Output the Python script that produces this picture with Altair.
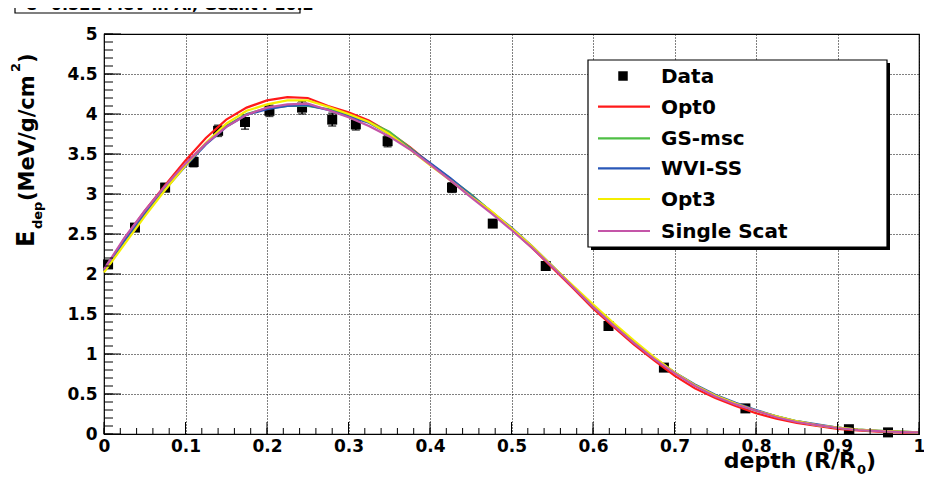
import altair as alt
import pandas as pd

# ---------------- data ----------------
depth = [0.0, 0.025, 0.05, 0.075, 0.1, 0.125, 0.15, 0.175, 0.2, 0.225, 0.25,
         0.275, 0.3, 0.325, 0.35, 0.375, 0.4, 0.425, 0.45, 0.475, 0.5,
         0.525, 0.55, 0.575, 0.6, 0.625, 0.65, 0.675, 0.7, 0.725, 0.75,
         0.775, 0.8, 0.825, 0.85, 0.875, 0.9, 0.925, 0.95, 0.975, 1.0]

opt0 = [2.04, 2.44, 2.79, 3.11, 3.42, 3.70, 3.93, 4.08, 4.17, 4.21, 4.20,
        4.10, 4.02, 3.92, 3.77, 3.59, 3.38, 3.18, 2.98, 2.78, 2.56,
        2.33, 2.08, 1.83, 1.57, 1.34, 1.12, 0.92, 0.73, 0.57, 0.45,
        0.35, 0.26, 0.19, 0.14, 0.10, 0.065, 0.045, 0.03, 0.02, 0.015]

gs_msc = [2.05, 2.43, 2.77, 3.08, 3.37, 3.63, 3.85, 4.00, 4.07, 4.10, 4.10,
          4.06, 3.99, 3.90, 3.78, 3.58, 3.38, 3.19, 3.00, 2.78, 2.57,
          2.34, 2.10, 1.85, 1.59, 1.37, 1.15, 0.95, 0.77, 0.61, 0.48,
          0.38, 0.29, 0.22, 0.16, 0.11, 0.08, 0.055, 0.04, 0.03, 0.02]

wvi_ss = [2.04, 2.41, 2.75, 3.06, 3.35, 3.62, 3.84, 3.99, 4.06, 4.10, 4.11,
          4.05, 3.97, 3.89, 3.75, 3.57, 3.39, 3.20, 2.99, 2.78, 2.58,
          2.35, 2.10, 1.85, 1.60, 1.37, 1.15, 0.95, 0.77, 0.62, 0.49,
          0.39, 0.30, 0.22, 0.16, 0.12, 0.08, 0.055, 0.04, 0.03, 0.02]

opt3 = [2.02, 2.37, 2.72, 3.05, 3.36, 3.64, 3.88, 4.04, 4.12, 4.17, 4.17,
        4.09, 4.00, 3.90, 3.75, 3.56, 3.36, 3.17, 2.97, 2.79, 2.57,
        2.35, 2.10, 1.86, 1.62, 1.39, 1.17, 0.96, 0.77, 0.61, 0.48,
        0.38, 0.29, 0.22, 0.16, 0.11, 0.08, 0.055, 0.04, 0.03, 0.02]

single_scat = [2.06, 2.45, 2.79, 3.10, 3.38, 3.63, 3.84, 3.99, 4.08, 4.12, 4.13,
               4.05, 3.96, 3.85, 3.72, 3.56, 3.37, 3.17, 2.96, 2.76, 2.55,
               2.33, 2.09, 1.84, 1.59, 1.36, 1.14, 0.94, 0.76, 0.60, 0.47,
               0.37, 0.29, 0.21, 0.15, 0.11, 0.075, 0.05, 0.035, 0.025, 0.02]

data_x = [0.005, 0.038, 0.075, 0.110, 0.140, 0.173, 0.203, 0.243, 0.280, 0.309,
          0.348, 0.427, 0.477, 0.542, 0.619, 0.687, 0.787, 0.914, 0.962]
data_y = [2.12, 2.58, 3.08, 3.40, 3.79, 3.90, 4.04, 4.08, 3.93, 3.87,
          3.66, 3.08, 2.63, 2.10, 1.35, 0.83, 0.32, 0.06, 0.02]
data_err = [0.04, 0.04, 0.05, 0.06, 0.07, 0.09, 0.07, 0.08, 0.08, 0.07,
            0.07, 0.06, 0.04, 0.04, 0.03, 0.03, 0.03, 0.03, 0.03]

series_names = ["Opt0", "GS-msc", "WVI-SS", "Opt3", "Single Scat"]
series_values = [opt0, gs_msc, wvi_ss, opt3, single_scat]
series_colors = ["#ff1a1a", "#4fbf45", "#2a58b8", "#f4ee00", "#c455a8"]

x_major = [0.0, 0.1, 0.2, 0.3, 0.4, 0.5, 0.6, 0.7, 0.8, 0.9, 1.0]
y_major = [0.0, 0.5, 1.0, 1.5, 2.0, 2.5, 3.0, 3.5, 4.0, 4.5, 5.0]
x_minor = [round(i * 0.02, 2) for i in range(51)]
y_minor = [round(i * 0.1, 1) for i in range(51)]

title_text = "e\u207b 0.521 MeV in Al, Geant4 10.2"

# ---------------- layout constants (pixels) ----------------
W, H = 815, 400
FONT = "DejaVu Sans"

xs = alt.Scale(domain=[0, 1], nice=False, zero=False)
ys = alt.Scale(domain=[0, 5], nice=False, zero=False)

dot = pd.DataFrame({"d": [0]})

pts = pd.DataFrame({"x": data_x, "y": data_y, "err": data_err})
pts["lo"] = pts["y"] - pts["err"]
pts["hi"] = pts["y"] + pts["err"]

XA = alt.Axis(values=x_major, format="~g", title=None, labelPadding=4, grid=True)
YA = alt.Axis(values=y_major, format="~g", title=None, labelPadding=7, grid=True)

squares = alt.Chart(pts).mark_square(size=100, color="black", opacity=1).encode(
    x=alt.X("x:Q", scale=xs, axis=XA), y=alt.Y("y:Q", scale=ys, axis=YA))
errbars = alt.Chart(pts).mark_rule(color="black", strokeWidth=1.5).encode(
    x=alt.X("x:Q", scale=xs, axis=XA), y=alt.Y("lo:Q", scale=ys, axis=YA), y2="hi:Q")
caps_lo = alt.Chart(pts).mark_tick(color="black", orient="horizontal", size=8,
                                   thickness=1.5).encode(
    x=alt.X("x:Q", scale=xs, axis=XA), y=alt.Y("lo:Q", scale=ys, axis=YA))
caps_hi = alt.Chart(pts).mark_tick(color="black", orient="horizontal", size=8,
                                   thickness=1.5).encode(
    x=alt.X("x:Q", scale=xs, axis=XA), y=alt.Y("hi:Q", scale=ys, axis=YA))

# ---- ticks drawn inside the frame ----
xmaj = alt.Chart(pd.DataFrame({"t": x_major})).mark_rule(color="black", strokeWidth=1).encode(
    x=alt.X("t:Q", scale=xs, axis=XA), y=alt.value(H), y2=alt.value(H - 12))
xmin = alt.Chart(pd.DataFrame({"t": x_minor})).mark_rule(color="black", strokeWidth=1).encode(
    x=alt.X("t:Q", scale=xs, axis=XA), y=alt.value(H), y2=alt.value(H - 6))
ymaj = alt.Chart(pd.DataFrame({"t": y_major})).mark_rule(color="black", strokeWidth=1).encode(
    y=alt.Y("t:Q", scale=ys, axis=YA), x=alt.value(0), x2=alt.value(17))
ymin = alt.Chart(pd.DataFrame({"t": y_minor})).mark_rule(color="black", strokeWidth=1).encode(
    y=alt.Y("t:Q", scale=ys, axis=YA), x=alt.value(0), x2=alt.value(9))

# ---- simulation curves ----
curves = []
for name, vals, col in zip(series_names, series_values, series_colors):
    df = pd.DataFrame({"x": depth, "y": vals})
    curves.append(alt.Chart(df).mark_line(color=col, strokeWidth=2.2,
                                          interpolate="linear").encode(
        x=alt.X("x:Q", scale=xs, axis=XA), y=alt.Y("y:Q", scale=ys, axis=YA)))

# ---- legend (drawn manually, ROOT style) ----
LX0, LX1, LY0, LY1 = 484, 783, 26, 213
leg = []
leg.append(alt.Chart(dot).mark_rect(color="black").encode(
    x=alt.value(LX0 + 3), x2=alt.value(LX1 + 3), y=alt.value(LY0 + 3), y2=alt.value(LY1 + 3)))
leg.append(alt.Chart(dot).mark_rect(fill="white", stroke="black", strokeWidth=1.2).encode(
    x=alt.value(LX0), x2=alt.value(LX1), y=alt.value(LY0), y2=alt.value(LY1)))
leg.append(alt.Chart(dot).mark_square(size=90, color="black", opacity=1).encode(
    x=alt.value(519), y=alt.value(42)))
leg.append(alt.Chart(dot).mark_text(text="Data", font=FONT, fontWeight="bold", fontSize=20,
                                    align="left", baseline="middle", color="black").encode(
    x=alt.value(557), y=alt.value(43)))
leg_ys = [72.7, 104.3, 134.3, 165, 197]
for name, col, ly in zip(series_names, series_colors, leg_ys):
    leg.append(alt.Chart(dot).mark_rule(color=col, strokeWidth=2.2).encode(
        x=alt.value(494), x2=alt.value(546), y=alt.value(ly)))
    leg.append(alt.Chart(dot).mark_text(text=name, font=FONT, fontWeight="bold", fontSize=20,
                                        align="left", baseline="middle", color="black").encode(
        x=alt.value(557), y=alt.value(ly + 1)))

# ---- title box (cut off at top like the reference) ----
ttl = [
    alt.Chart(dot).mark_rect(fill="white", stroke="black", strokeWidth=1.2).encode(
        x=alt.value(-89), x2=alt.value(196), y=alt.value(-40), y2=alt.value(-21)),
    alt.Chart(dot).mark_text(text=title_text, font=FONT, fontWeight="bold", fontSize=16,
                             align="left", baseline="alphabetic", color="black").encode(
        x=alt.value(-78), y=alt.value(-24)),
]

# ---- axis titles ----
def txt(s, x, y, size, angle=0, align="left", baseline="alphabetic"):
    kw = dict(text=s, font=FONT, fontWeight="bold", fontSize=size, align=align,
              baseline=baseline, color="black")
    if angle:
        kw["angle"] = angle
    return alt.Chart(dot).mark_text(**kw).encode(x=alt.value(x), y=alt.value(y))

axis_titles = [
    txt("depth (R/R", 752, 434, 22, align="right"),
    txt("0", 753, 440, 13),
    txt(")", 762, 434, 22),
    txt("E", -70, 213, 24, angle=270),
    txt("dep", -62, 195, 13, angle=270),
    txt("(MeV/g/cm", -70, 167, 21, angle=270),
    txt("2", -84, 38, 13, angle=270),
    txt(")", -70, 29, 21, angle=270),
]

chart = alt.layer(
    squares, errbars, caps_lo, caps_hi, *curves, xmaj, xmin, ymaj, ymin,
    *leg, *ttl, *axis_titles
).properties(
    width=W, height=H,
    autosize=alt.AutoSizeParams(type="none"),
    padding={"left": 96, "top": 26, "right": 5, "bottom": 44},
).configure_view(
    stroke="black", strokeWidth=1.2
).configure_axis(
    labelFont=FONT, labelFontWeight="bold", labelFontSize=17, labelColor="black",
    tickSize=0, domain=False, gridColor="black", gridDash=[1, 2], gridWidth=1,
    gridOpacity=1, labelOverlap=False, labelFlush=False,
)

chart.save("out.html", embed_options={"renderer": "svg", "actions": False})
